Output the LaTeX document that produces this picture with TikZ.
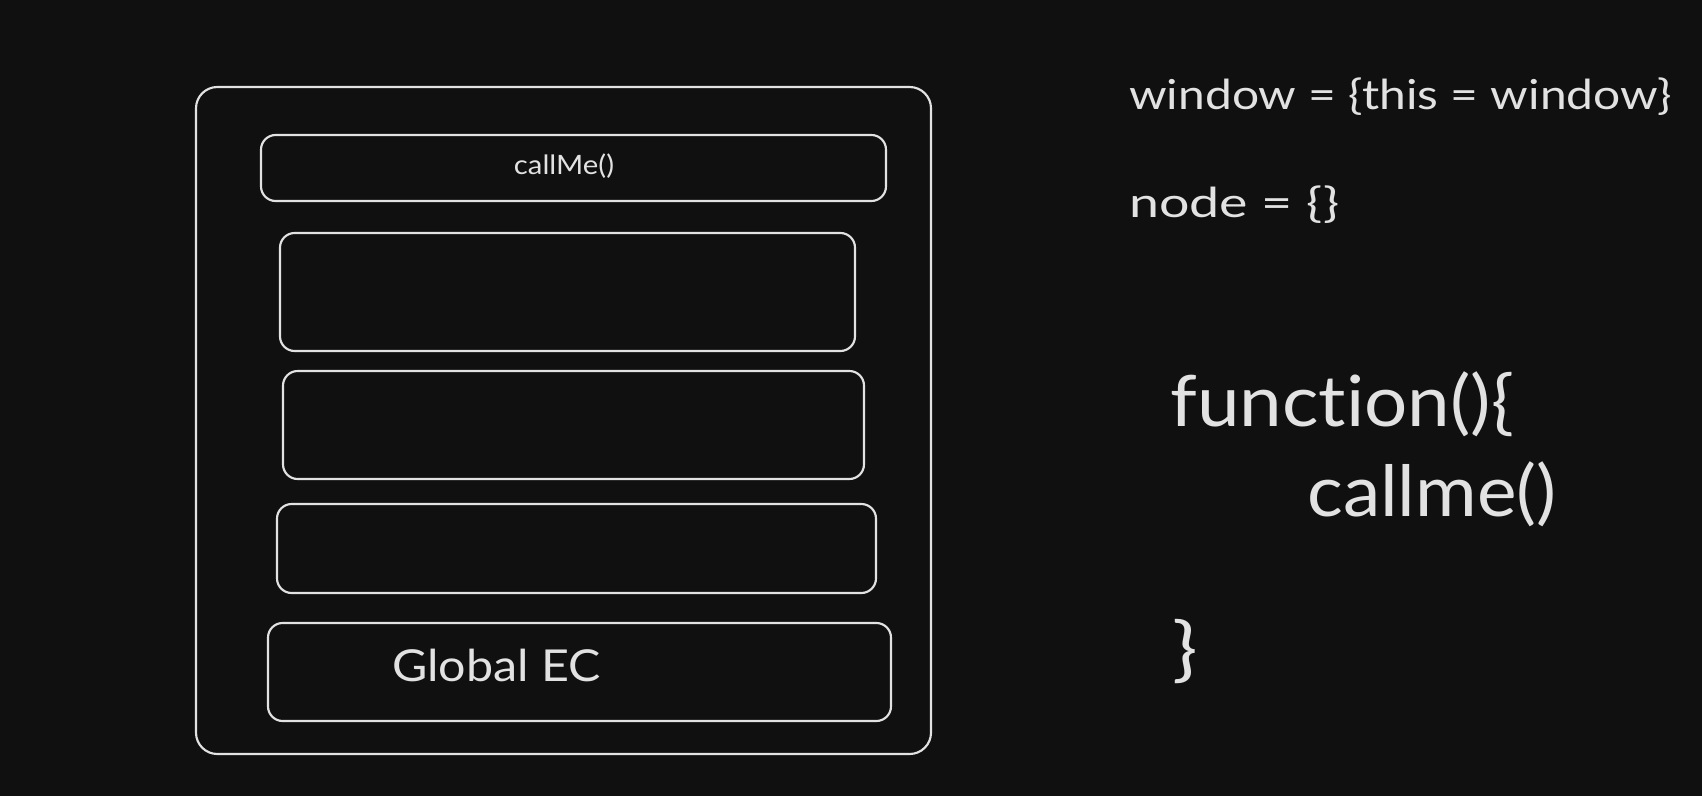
\documentclass[tikz,border=0pt]{standalone}
\usepackage{fontspec}
\setmainfont{Lato}[Ligatures={NoCommon}]
\definecolor{bg}{HTML}{101010}
\definecolor{ink}{HTML}{E2E2E2}
\begin{document}
\begin{tikzpicture}[x=0.75pt,y=-0.75pt,
  box/.style={draw=ink,line width=1.6pt,rounded corners=11pt,inner sep=0pt,outer sep=0pt},
  txt/.style={text=ink,inner sep=0pt,anchor=west}]
\fill[bg] (0,0) rectangle (1702,796);
\useasboundingbox (0,0) rectangle (1702,796);
\node[box,rounded corners=16pt,minimum width=551.25pt,minimum height=500.25pt] (outer) at (563.5,420.5) {};
\node[box,minimum width=468.75pt,minimum height=49.5pt] (callbox) at (573.5,168) {};
\node[box,minimum width=431.25pt,minimum height=88.5pt] (box2) at (567.5,292) {};
\node[box,minimum width=435.75pt,minimum height=81pt] (box3) at (573.5,425) {};
\node[box,minimum width=449.25pt,minimum height=66.75pt] (box4) at (576.5,548.5) {};
\node[box,minimum width=467.25pt,minimum height=73.5pt] (global) at (579.5,672) {};
\node[txt,anchor=center,font=\fontsize{20}{24}\selectfont] (calltxt) at (564,166) {\scalebox{1.1}[1]{callMe()}};
\node[txt,font=\fontsize{33}{38}\selectfont] (globaltxt) at (392,665) {\scalebox{1.1}[1]{Global EC}};
\node[txt,font=\fontsize{31}{36}\selectfont] (win) at (1129,97) {\scalebox{1.16}[1]{window = \{this = window\}}};
\node[txt,font=\fontsize{31}{36}\selectfont] (nodetxt) at (1129,205) {\scalebox{1.3}[1]{node = \{\}}};
\node[txt,font=\fontsize{53}{60}\selectfont] (func) at (1170,404) {\scalebox{1.08}[1]{function()\{}};
\node[txt,font=\fontsize{53}{60}\selectfont] (callme) at (1307,494) {\scalebox{1.06}[1]{callme()}};
\node[txt,font=\fontsize{53}{60}\selectfont] (close) at (1172,652) {\scalebox{1.2}[1]{\}}};
\end{tikzpicture}
\end{document}
